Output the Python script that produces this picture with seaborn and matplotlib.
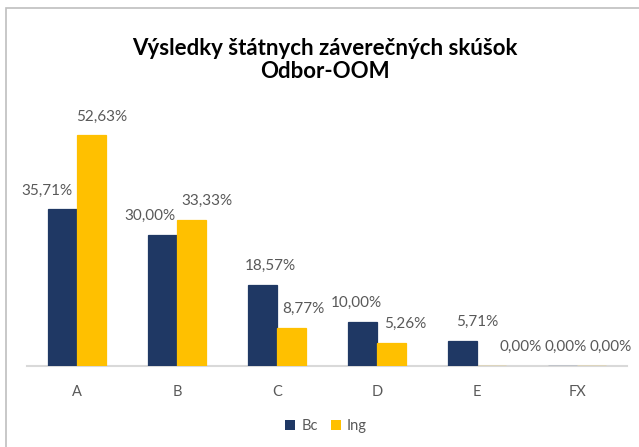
import matplotlib
matplotlib.use("Agg")
import matplotlib.pyplot as plt
import seaborn as sns
import pandas as pd
from matplotlib.patches import Rectangle, Patch

categories = ["A", "B", "C", "D", "E", "FX"]
bc_values = [35.71, 30.00, 18.57, 10.00, 5.71, 0.00]
ing_values = [52.63, 33.33, 8.77, 5.26, 0.00, 0.00]
series = ["Bc", "Ing"]
title = "Výsledky štátnych záverečných skúšok\nOdbor-OOM"

colors = {"Bc": "#1F3864", "Ing": "#FFC000"}
text_gray = "#595959"

df = pd.DataFrame({
    "cat": categories * 2,
    "val": bc_values + ing_values,
    "series": ["Bc"] * len(categories) + ["Ing"] * len(categories),
})

sns.set_theme(style="white")
plt.rcParams["font.family"] = ["Lato", "DejaVu Sans"]

W, H = 639, 447
fig = plt.figure(figsize=(W / 100, H / 100), dpi=100)
fig.patch.set_facecolor("white")

# chart border (Excel chart area)
fig.patches.append(Rectangle((6 / W, -0.05), 1.2, 1 - 8 / H + 0.05,
                             transform=fig.transFigure, fill=False,
                             edgecolor="#BFBFBF", linewidth=1.2))

ax = fig.add_axes([27 / W, (H - 366) / H, 600 / W, 263 / H])
sns.barplot(data=df, x="cat", y="val", hue="series", order=categories,
            hue_order=series, palette=colors, width=0.58, ax=ax,
            legend=False, saturation=1, linewidth=0)
ax.set_ylim(0, 60)
ax.set_xlim(-0.5, 5.5)
ax.set_xlabel("")
ax.set_ylabel("")
ax.set_yticks([])
for s in ["top", "right", "left"]:
    ax.spines[s].set_visible(False)
ax.spines["bottom"].set_color("#D9D9D9")
ax.spines["bottom"].set_linewidth(1.5)
ax.spines["bottom"].set_zorder(0)
ax.tick_params(axis="x", length=0, pad=14, labelsize=10.5, colors=text_gray)

# thin outline so zero-height bars still show at the baseline, like Excel
for cont in ax.containers:
    for bar in cont:
        bar.set_edgecolor(bar.get_facecolor())
        bar.set_linewidth(0.9)
        bar.set_zorder(3)

# data labels (horizontal nudges mimic Excel's label placement)
nudges = [[-16, -13, 8, -6, 15, 3], [10, 15, 12, 14, 29, 19]]
for ci, cont in enumerate(ax.containers):
    vals = bc_values if ci == 0 else ing_values
    for bi, (bar, v) in enumerate(zip(cont, vals)):
        x = bar.get_x() + bar.get_width() / 2
        ax.annotate(f"{v:.2f}%".replace(".", ","), (x, bar.get_height()),
                    xytext=(nudges[ci][bi] * 0.72, 8.5), textcoords="offset points",
                    ha="center", va="bottom", fontsize=11, color=text_gray,
                    annotation_clip=False)

fig.text(325 / W, 1 - 60 / H, title, ha="center", va="center",
         fontsize=16, fontweight="bold", color="#000000", linespacing=1.15)

handles = [Patch(facecolor=colors[s], edgecolor="none") for s in series]
fig.legend(handles, series, loc="center", bbox_to_anchor=(326 / W, 1 - 426 / H),
           ncol=2, frameon=False, fontsize=10.5, labelcolor=text_gray,
           handlelength=0.7, handleheight=0.7, handletextpad=0.4,
           columnspacing=0.9)

fig.savefig("out.png", dpi=100, facecolor="white")
